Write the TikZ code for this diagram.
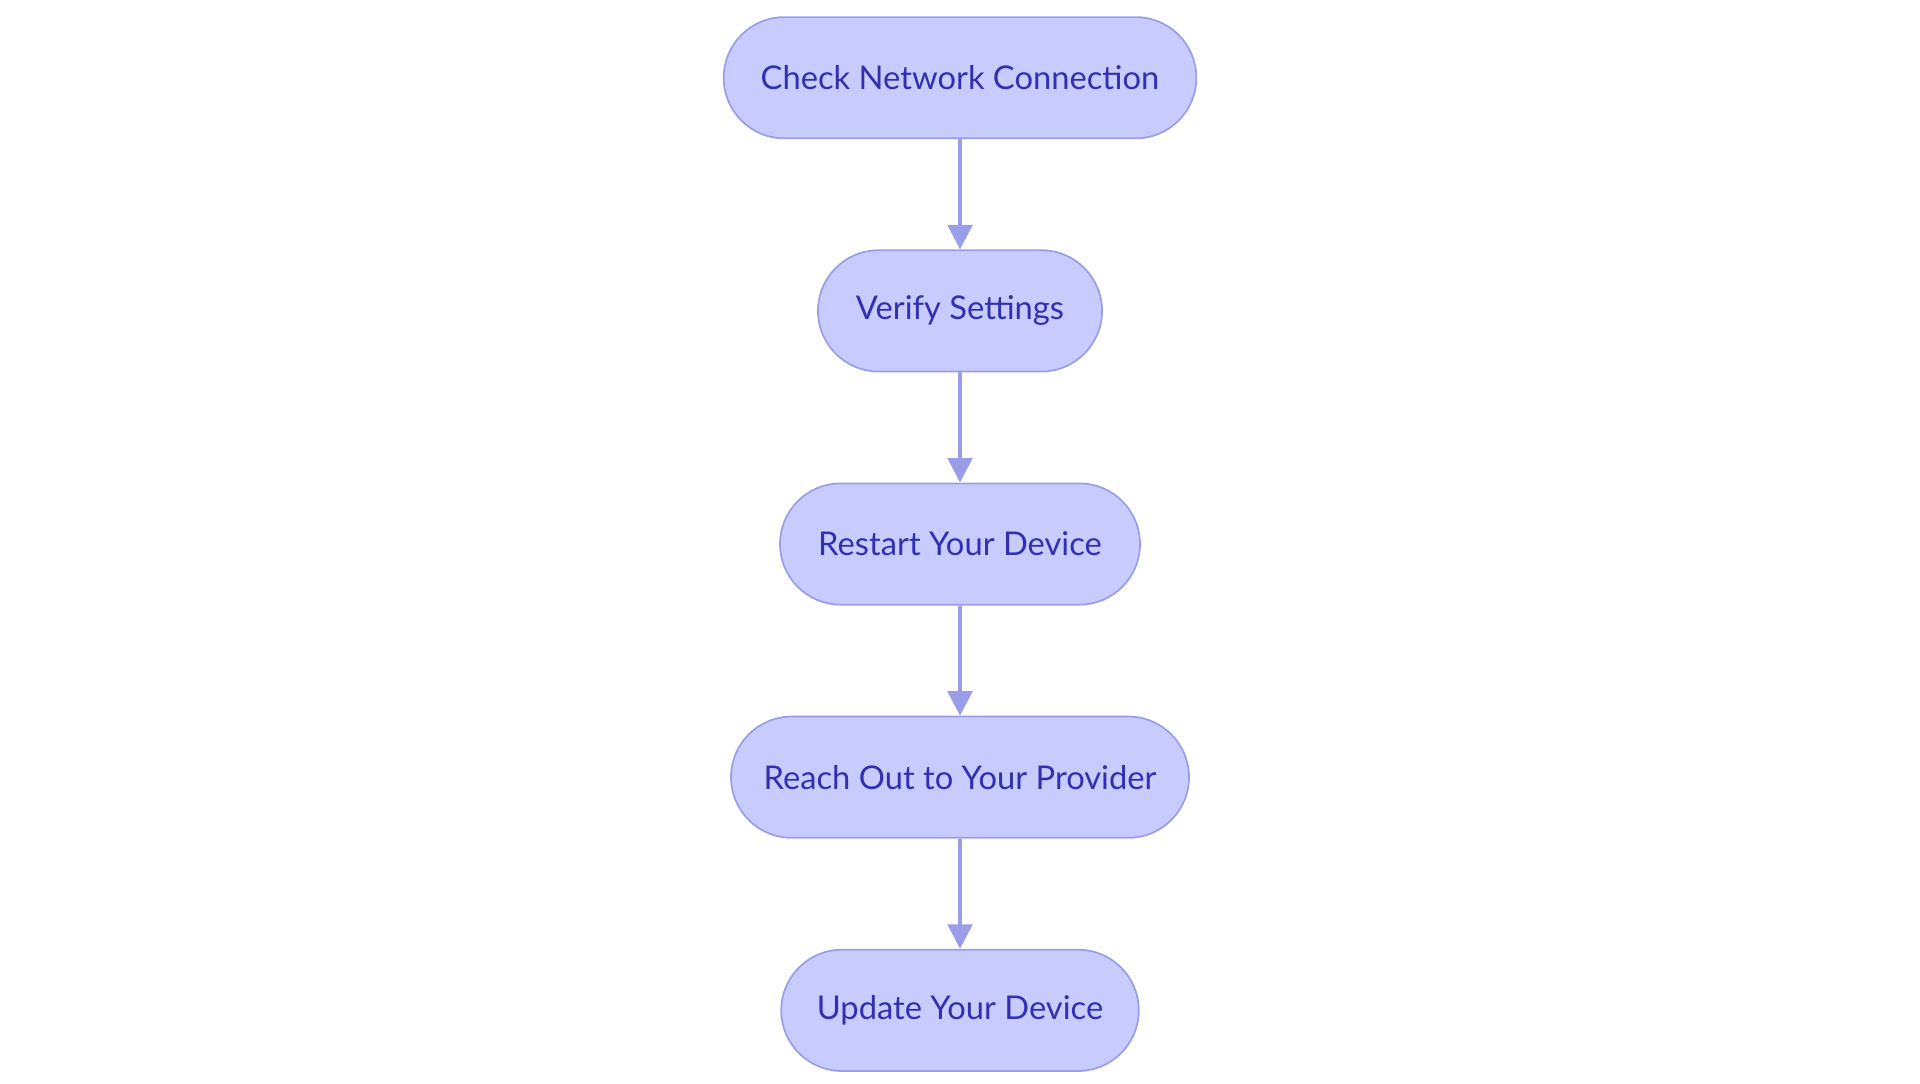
\documentclass[tikz,border=0pt]{standalone}
\usepackage{fontspec}
\setmainfont{Lato}
\usetikzlibrary{arrows.meta, positioning}
\definecolor{stepfill}{HTML}{C8CBFE}
\definecolor{stepline}{HTML}{9A9EE8}
\definecolor{steptext}{HTML}{3030B0}

\begin{document}
\begin{tikzpicture}[
    node distance=0.9cm,
    pill/.style={rectangle, rounded corners=0.495cm, draw=stepline, fill=stepfill, thin, minimum height=0.99cm, align=center, text=steptext, font=\fontsize{7.6}{9}\selectfont},
    arrow/.style={-{Triangle[length=0.2cm, width=0.2cm]}, line width=0.9pt, stepline}
]
\useasboundingbox (0,0) rectangle (15.68,-8.845);

\node[pill, minimum width=3.86cm] (check) at (7.84,-0.635) {Check Network Connection};
\node[pill, minimum width=2.32cm, below=of check] (verify) {Verify Settings};
\node[pill, minimum width=2.94cm, below=of verify] (restart) {Restart Your Device};
\node[pill, minimum width=3.74cm, below=of restart] (reach) {Reach Out to Your Provider};
\node[pill, minimum width=2.92cm, below=of reach] (update) {Update Your Device};

\draw[arrow] (check) -- (verify);
\draw[arrow] (verify) -- (restart);
\draw[arrow] (restart) -- (reach);
\draw[arrow] (reach) -- (update);

\end{tikzpicture}
\end{document}
